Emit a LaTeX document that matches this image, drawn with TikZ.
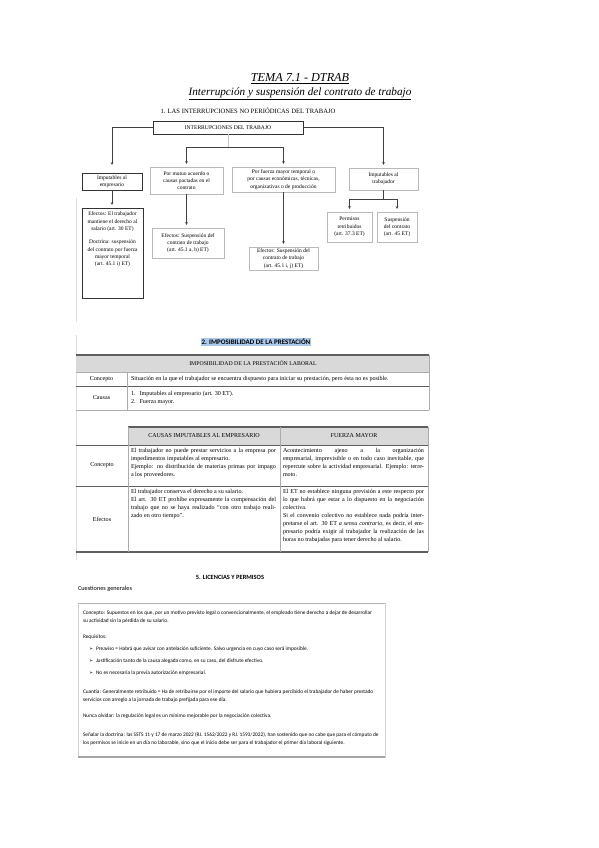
\documentclass[tikz,border=0pt]{standalone}
\usepackage{fontspec}
\setmainfont{Liberation Serif}
\newfontfamily\calib{Carlito}
\newfontfamily\djv{DejaVu Sans}
\usetikzlibrary{arrows.meta,shadows}
\definecolor{hlblue}{RGB}{172,202,236}
\definecolor{hdrgray}{RGB}{217,217,217}
\definecolor{rulegray}{RGB}{95,95,95}
\newcommand\fsf{\fontsize{5.5}{7.3}\selectfont}
\newcommand\fst{\fontsize{6.1}{8}\selectfont}
\newcommand\fsc{\calib\fontsize{5.35}{7.6}\selectfont}
\newcommand\jl[2]{\makebox[#1][s]{#2}}
\newcommand\arw{{\djv\fontsize{4.8}{6}\selectfont ➢}\hspace{3pt}}
\begin{document}
\begin{tikzpicture}[x=1pt,y=-1pt,
  ln/.style={draw=black!75, line width=0.6pt},
  conn/.style={ln, -{Stealth[length=2.8pt,width=2.6pt]}, shorten >=3pt},
  fbox/.style={draw=gray!55, line width=0.45pt, fill=white, align=center, font=\fsf, inner sep=1pt, outer sep=0pt,
    drop shadow={shadow xshift=0.9pt, shadow yshift=-0.9pt, fill=gray!40, opacity=0.8}},
  dbox/.style={fbox, draw=black!80},
  txt/.style={inner sep=0pt, outer sep=0pt},
  cell/.style={txt, font=\fst, align=left, anchor=north west},
  bt/.style={txt, font=\fsc, align=left, anchor=west},
  rule/.style={draw=gray!65, line width=0.5pt},
  edge/.style={draw=gray!25, line width=0.4pt}]
\useasboundingbox (0,0) rectangle (599,848);
\fill[white] (0,0) rectangle (599,848);

% ---------- titles ----------
\node[txt, font=\fontsize{12.2}{14}\selectfont\itshape] (title1) at (300,79) {\underline{TEMA 7.1 - DTRAB}};
\node[txt, font=\fontsize{11.2}{13}\selectfont\itshape] (title2) at (300,94) {\underline{Interrupción y suspensión del contrato de trabajo}};
\node[txt, font=\fontsize{6.6}{7}\selectfont] (sec1) at (248,111) {1. LAS INTERRUPCIONES NO PERIÓDICAS DEL TRABAJO};

% ---------- flowchart ----------
\draw[edge] (76,198) -- (76,322);
\node[dbox, minimum width=150pt, minimum height=13pt, font=\fontsize{5.6}{6}\selectfont] (top) at (228,127.5) {INTERRUPCIONES DEL TRABAJO};

\node[dbox, minimum width=60pt, minimum height=17pt] (b1) at (112,181.5) {Imputables al\\empresario};
\node[fbox, minimum width=73pt, minimum height=27pt] (b2) at (186.5,180.5) {Por mutuo acuerdo o\\causas pactadas en el\\contrato};
\node[fbox, minimum width=103pt, minimum height=25pt] (b3) at (283.5,179.5) {Por fuerza mayor temporal o\\por causas económicas, técnicas,\\organizativas o de producción};
\node[fbox, minimum width=69pt, minimum height=22pt] (b4) at (383.5,179) {Imputables al\\trabajador};

\node[dbox, minimum width=61pt, minimum height=90pt] (e1) at (112.5,253) {};
\node[txt, font=\fsf, align=center, anchor=north] (e1t) at (112.5,212) {Efectos: El trabajador\\mantiene el derecho al\\salario (art. 30 ET)\\[6pt]Doctrina: suspensión\\del contrato por fuerza\\mayor temporal\\(art. 45.1 i) ET)};
\node[fbox, minimum width=72pt, minimum height=30pt] (e2) at (188,243) {Efectos: Suspensión del\\contrato de trabajo\\(art. 45.1 a, b) ET)};
\node[fbox, minimum width=69pt, minimum height=23pt] (e3) at (283.5,258.5) {Efectos: Suspensión del\\contrato de trabajo\\(art. 45.1 i, j) ET)};
\node[fbox, minimum width=45pt, minimum height=30pt] (p1) at (349.5,227) {Permisos\\retribuidos\\(art. 37.3 ET)};
\node[fbox, minimum width=40pt, minimum height=30pt] (p2) at (397,227) {Suspensión\\del contrato\\(art. 45 ET)};

\draw[conn, shorten >=8pt] (top.west) -| (b1.north);
\draw[conn] (top.east) -| (b4.north);
\coordinate (j1) at (228,147);
\draw[ln, draw=gray!45] (top.south) -- (j1);
\draw[conn] (j1) -| (b2.north);
\draw[conn] (j1) -| (b3.north);
\draw[conn] (b1.south) -- (b1.south |- e1.north);
\draw[conn] (b2.south) -- (b2.south |- e2.north);
\draw[conn] (b3.south) -- (b3.south |- e3.north);
\coordinate (j4) at (383.5,199);
\draw[ln] (b4.south) -- (j4);
\draw[conn] (j4) -| (p1.north);
\draw[conn] (j4) -| (p2.north);

% ---------- section 2 ----------
\draw[edge] (76,335) -- (76,560);
\node[txt, fill=hlblue, inner sep=0.8pt, font=\calib\bfseries\fontsize{7}{8}\selectfont] (sec2) at (256,342) {2. IMPOSIBILIDAD DE LA PRESTACIÓN};

% table 1
\fill[hdrgray] (76,355) rectangle (429,372);
\draw[draw=rulegray, line width=1.2pt] (76,355) -- (429,355);
\draw[rule] (76,372) -- (429,372);
\draw[draw=rulegray, line width=0.8pt] (76,386) -- (429,386);
\draw[rule] (76,410) -- (429,410);
\draw[rule] (127,372) -- (127,410);
\draw[rule] (429,355) -- (429,410);
\node[txt, font=\fontsize{5.8}{7}\selectfont] (h1) at (253,363.5) {IMPOSIBILIDAD DE LA PRESTACIÓN LABORAL};
\node[txt, font=\fst] (c1) at (101.5,379) {Concepto};
\node[txt, font=\fst, anchor=west] (c1t) at (131,379) {Situación en la que el trabajador se encuentra dispuesto para iniciar su prestación, pero ésta no es posible.};
\node[txt, font=\fst] (c2) at (101.5,398) {Causas};
\node[txt, font=\fst, anchor=west, align=left] (c2t) at (131,398) {1.\hspace{4pt}Imputables al empresario (art. 30 ET).\\2.\hspace{4pt}Fuerza mayor.};

% table 2
\fill[hdrgray] (128,427) rectangle (428,445);
\draw[draw=rulegray, line width=1.2pt] (128,427) -- (428,427);
\draw[draw=rulegray, line width=0.7pt] (76,445) -- (428,445);
\draw[draw=rulegray, line width=0.7pt] (76,486) -- (428,486);
\draw[draw=rulegray, line width=1.1pt] (76,552) -- (428,552);
\draw[rule] (128,427) -- (128,552);
\draw[rule] (280,427) -- (280,552);
\draw[rule] (428,427) -- (428,552);
\node[txt, font=\fontsize{6}{7}\selectfont] (h2a) at (204,436) {CAUSAS IMPUTABLES AL EMPRESARIO};
\node[txt, font=\fontsize{6}{7}\selectfont] (h2b) at (354,436) {FUERZA MAYOR};
\node[txt, font=\fst] (r1) at (102,465.5) {Concepto};
\node[txt, font=\fst] (r2) at (102,519) {Efectos};
\node[cell] (r1a) at (131,448.5) {\jl{145pt}{El trabajador no puede prestar servicios a la empresa por}\\
impedimentos imputables al empresario.\\
\jl{145pt}{Ejemplo: no distribución de materias primas por impago}\\
a los proveedores.};
\node[cell] (r1b) at (283,448.5) {\jl{141pt}{Acontecimiento ajeno a la organización}\\
\jl{141pt}{empresarial, imprevisible o en todo caso inevitable, que}\\
\jl{141pt}{repercute sobre la actividad empresarial. Ejemplo: terre-}\\
moto.};
\node[cell] (r2a) at (131,489.5) {El trabajador conserva el derecho a su salario.\\
\jl{145pt}{El art. 30 ET prohíbe expresamente la compensación del}\\
\jl{145pt}{trabajo que no se haya realizado “con otro trabajo reali-}\\
zado en otro tiempo”.};
\node[cell] (r2b) at (283,489.5) {\jl{141pt}{El ET no establece ninguna previsión a este respecto por}\\
\jl{141pt}{lo que habrá que estar a lo dispuesto en la negociación}\\
colectiva.\\
\jl{141pt}{Si el convenio colectivo no establece nada podría inter-}\\
\jl{141pt}{pretarse el art. 30 ET \emph{a sensu contrario}, es decir, el em-}\\
\jl{141pt}{presario podría exigir al trabajador la realización de las}\\
horas no trabajadas para tener derecho al salario.};

% ---------- section 5 ----------
\node[txt, font=\calib\bfseries\fontsize{6.4}{7}\selectfont] (sec5) at (230,577) {5. LICENCIAS Y PERMISOS};
\node[txt, font=\calib\fontsize{6.3}{7}\selectfont, anchor=west] (cg) at (78,589) {Cuestiones generales};
\draw[draw=gray!35, line width=0.5pt] (78,603) rectangle (385,757);
\draw[draw=gray!60, line width=1pt] (78,603) -- (385,603);
\draw[draw=gray!70, line width=1.3pt] (78,757) -- (385,757);
\node[bt] (l1) at (83,613) {Concepto: Supuestos en los que, por un motivo previsto legal o convencionalmente, el empleado tiene derecho a dejar de desarrollar};
\node[bt] (l2) at (83,621) {su actividad sin la pérdida de su salario.};
\node[bt] (l3) at (83,637) {Requisitos:};
\node[bt] (l4) at (89,649) {\arw Preaviso = Habrá que avisar con antelación suficiente. Salvo urgencia en cuyo caso será imposible.};
\node[bt] (l5) at (89,661) {\arw Justificación tanto de la causa alegada como, en su caso, del disfrute efectivo.};
\node[bt] (l6) at (89,673) {\arw No es necesaria la previa autorización empresarial.};
\node[bt] (l7) at (83,692) {Cuantía: Generalmente retribuido = Ha de retribuirse por el importe del salario que hubiera percibido el trabajador de haber prestado};
\node[bt] (l8) at (83,700) {servicios con arreglo a la jornada de trabajo prefijada para ese día.};
\node[bt] (l9) at (83,716) {Nunca olvidar: la regulación legal es un mínimo mejorable por la negociación colectiva.};
\node[bt] (l10) at (83,735) {Señalar la doctrina: las SSTS 11 y 17 de marzo 2022 (RJ. 1562/2022 y RJ. 1593/2022), han sostenido que no cabe que para el cómputo de};
\node[bt] (l11) at (83,743) {los permisos se inicie en un día no laborable, sino que el inicio debe ser para el trabajador el primer día laboral siguiente.};
\end{tikzpicture}
\end{document}
